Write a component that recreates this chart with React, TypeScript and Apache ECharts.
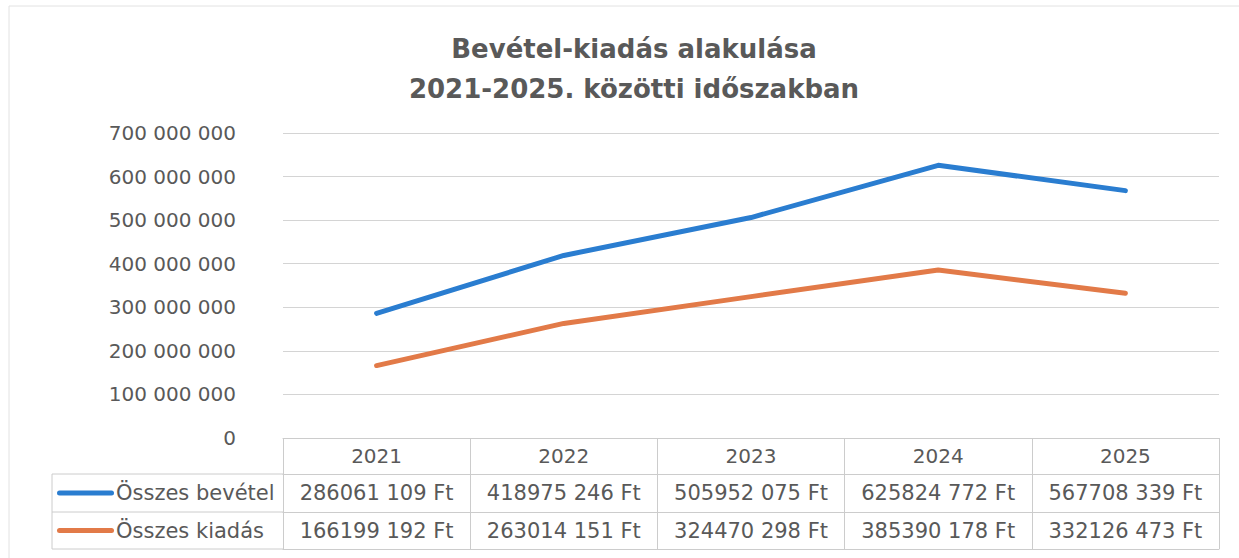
import { useEffect, useRef } from 'react';
import * as echarts from 'echarts';

const years = ['2021', '2022', '2023', '2024', '2025'];
const revenue = [286061109, 418975246, 505952075, 625824772, 567708339];
const expense = [166199192, 263014151, 324470298, 385390178, 332126473];
const seriesNames = ['Összes bevétel', 'Összes kiadás'];
const yMin = 0;
const yMax = 700000000;
const yStep = 100000000;
const titleText = 'Bevétel-kiadás alakulása\n2021-2025. közötti időszakban';

const FONT = 'DejaVu Sans';
const TEXT = '#595959';
const GRID = '#d4d4d4';
const BORDER = '#cccccc';
const BLUE = '#2a7dd0';
const ORANGE = '#e27a48';
const CAPSULE = 'path://M2.5,0 L54.5,0 A2.5,2.5 0 0 1 54.5,5 L2.5,5 A2.5,2.5 0 0 1 2.5,0 Z';

const groupSpaces = (v: number) => String(v).replace(/\B(?=(\d{3})+(?!\d))/g, ' ');
const ftFormat = (v: number) => {
  const hi = Math.floor(v / 1000);
  const lo = String(v % 1000).padStart(3, '0');
  return `${hi} ${lo} Ft`;
};

export default function App() {
  const ref = useRef<HTMLDivElement>(null);
  useEffect(() => {
    if (!ref.current) return;
    const chart = echarts.init(ref.current, undefined, { renderer: 'svg' });
    const L = 283;
    const R = 1219;
    const axisY = 438;
    const row1 = 474;
    const row2 = 512;
    const row3 = 549;
    const legendLeft = 52;
    const line = (x1: number, y1: number, x2: number, y2: number) => ({
      type: 'line',
      shape: { x1, y1, x2, y2 },
      style: { stroke: BORDER, lineWidth: 1 },
      silent: true,
    });
    const tableAxis = (data: string[], offset: number, tickLen: number, showLabel: boolean) => ({
      type: 'category',
      position: 'bottom',
      offset,
      data,
      boundaryGap: true,
      axisLine: { show: true, lineStyle: { color: BORDER, width: 1 } },
      axisTick: { show: tickLen > 0, length: tickLen, inside: false, alignWithLabel: false, interval: 0, lineStyle: { color: BORDER, width: 1 } },
      axisLabel: { show: showLabel, interval: 0, margin: 8, color: TEXT, fontFamily: FONT, fontSize: 21 },
      splitLine: { show: false },
    });
    chart.setOption({
      animation: false,
      backgroundColor: '#ffffff',
      title: {
        text: titleText,
        left: 629,
        top: 24,
        textAlign: 'center',
        textStyle: { fontFamily: FONT, fontSize: 26, fontWeight: 'bold', color: TEXT, lineHeight: 40 },
      },
      grid: { left: L, right: 1239 - R, top: 133, bottom: 558 - axisY, outerBoundsMode: 'none' },
      legend: {
        orient: 'vertical',
        left: 57,
        top: 481,
        padding: 0,
        itemGap: 13.5,
        itemWidth: 57,
        itemHeight: 5,
        data: seriesNames.map((name) => ({ name, icon: CAPSULE })),
        textStyle: { fontFamily: FONT, fontSize: 21, color: TEXT, lineHeight: 24, padding: [0, 0, 0, -3] },
      },
      xAxis: [
        {
          ...tableAxis(years, 0, 36, true),
          axisLabel: { show: true, interval: 0, margin: 8, color: TEXT, fontFamily: FONT, fontSize: 20 },
        },
        tableAxis(revenue.map(ftFormat), row1 - axisY, 38, true),
        tableAxis(expense.map(ftFormat), row2 - axisY, 37, true),
        tableAxis(years, row3 - axisY, 0, false),
      ],
      yAxis: {
        type: 'value',
        min: yMin,
        max: yMax,
        interval: yStep,
        axisLine: { show: false },
        axisTick: { show: false },
        axisLabel: { margin: 47, color: TEXT, fontFamily: FONT, fontSize: 20, formatter: (v: number) => groupSpaces(v) },
        splitLine: { lineStyle: { color: GRID, width: 1 } },
      },
      series: [
        {
          name: seriesNames[0],
          type: 'line',
          xAxisIndex: 0,
          data: revenue,
          symbol: 'none',
          color: BLUE,
          itemStyle: { color: BLUE },
          lineStyle: { color: BLUE, width: 5, cap: 'round', join: 'round' },
        },
        {
          name: seriesNames[1],
          type: 'line',
          xAxisIndex: 0,
          data: expense,
          symbol: 'none',
          color: ORANGE,
          itemStyle: { color: ORANGE },
          lineStyle: { color: ORANGE, width: 5, cap: 'round', join: 'round' },
        },
      ],
      graphic: [
        {
          type: 'rect',
          shape: { x: 9, y: 6, width: 1260, height: 580 },
          style: { fill: 'none', stroke: '#e2e2e2', lineWidth: 1 },
          silent: true,
          z: -1,
        },
        line(legendLeft, row1, L, row1),
        line(legendLeft, row2, L, row2),
        line(legendLeft, row3, L, row3),
        line(legendLeft, row1, legendLeft, row3),
      ],
    });
    return () => chart.dispose();
  }, []);
  return <div ref={ref} style={{ position: 'absolute', left: 0, top: 0, width: 1239, height: 558 }} />;
}
